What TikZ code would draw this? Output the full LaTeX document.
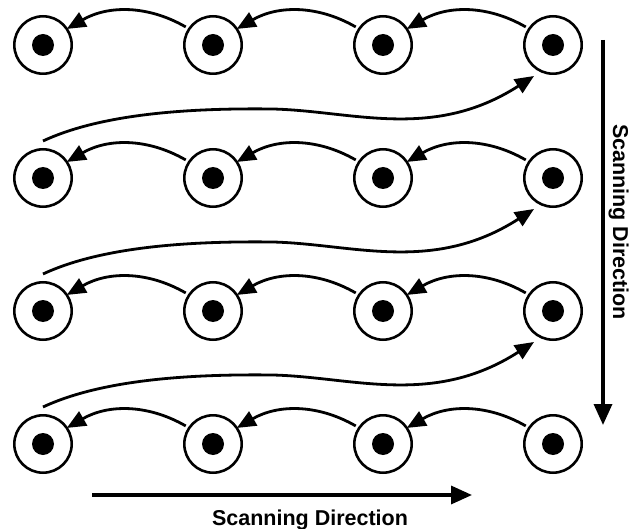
\documentclass[tikz,border=0pt]{standalone}
\usepackage{fontspec}
\setmainfont{Liberation Sans}
\usetikzlibrary{arrows.meta,calc}
\begin{document}
\begin{tikzpicture}[x=1pt,y=-1pt,
  ring/.style={circle,draw,line width=2.6pt,minimum size=57.4pt,inner sep=0pt,outer sep=0pt},
  dotmark/.style={circle,fill,minimum size=22pt,inner sep=0pt},
  conn/.style={line width=2.8pt,-{Triangle[length=19pt,width=16pt]}},
  bigarrow/.style={line width=3.4pt,-{Triangle[length=21pt,width=18pt]}},
  lbl/.style={font=\bfseries\fontsize{21.5}{25}\selectfont,inner sep=0pt}]
\useasboundingbox (0,0) rectangle (634,529);
% nodes
\foreach \r/\y in {1/45,2/178,3/311,4/444}{
  \foreach \c/\x in {1/43,2/213,3/383,4/553}{
    \node[ring] (n\r\c) at (\x,\y) {};
    \node[dotmark] (d\r\c) at (n\r\c) {};
  }
}
% arrows within rows
\foreach \r in {1,2,3,4}{
  \foreach \c/\p in {2/1,3/2,4/3}{
    \draw[conn,shorten <=4pt] (n\r\c.146) to[bend right=30] (n\r\p.34);
  }
}
% long arrows between rows
\foreach \r/\p in {2/1,3/2,4/3}{
  \coordinate (s\r) at ($(n\r1)+(0,-37)$);
  \coordinate (e\r) at ($(n\p4)+(-19,31)$);
  \draw[conn] (s\r) .. controls ($(s\r)+(60,-28)$) and ($(s\r)+(150,-33)$) .. ($(s\r)+(230,-32)$)
     .. controls ($(s\r)+(310,-30)$) and ($(s\r)+(390,0)$) .. (e\r);
}
% scanning direction arrows
\coordinate (vtop) at (603,40);
\coordinate (vbot) at (603,425);
\draw[bigarrow] (vtop) -- (vbot);
\coordinate (hl) at (92,495);
\coordinate (hr) at (472,495);
\draw[bigarrow] (hl) -- (hr);
\node[lbl,anchor=base] (htext) at (310,525) {Scanning Direction};
\node[lbl,anchor=base,rotate=-90] (vtext) at (613,222) {Scanning Direction};
\end{tikzpicture}
\end{document}
